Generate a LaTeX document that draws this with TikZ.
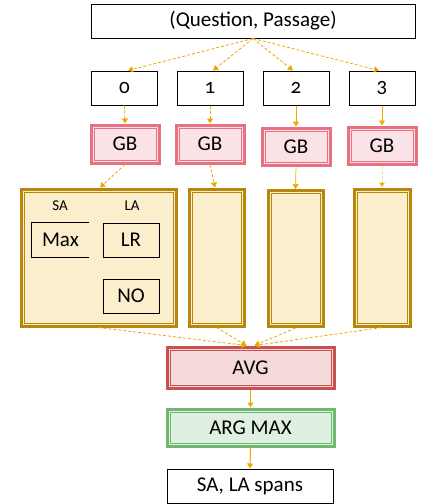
\documentclass[tikz,border=0pt]{standalone}
\usepackage{fontspec}
\setmainfont{Carlito}[Numbers=OldStyle]
\usetikzlibrary{arrows.meta}
\definecolor{arr}{RGB}{240,168,0}
\definecolor{gold}{RGB}{184,134,11}
\definecolor{goldfill}{RGB}{251,238,204}
\definecolor{pinkb}{RGB}{232,112,128}
\definecolor{pinkf}{RGB}{251,226,230}
\definecolor{redb}{RGB}{200,80,80}
\definecolor{redf}{RGB}{245,216,218}
\definecolor{greenb}{RGB}{112,184,112}
\definecolor{greenf}{RGB}{224,240,224}
\tikzset{
  bigfont/.style={font=\fontsize{21}{23}\selectfont},
  plainbox/.style={draw=black, line width=1pt, inner sep=0pt, bigfont},
  framed/.style={draw=#1, line width=3pt, inner sep=0pt,
    path picture={\draw[#1, line width=0.9pt]
      ([shift={(3pt,-3pt)}]path picture bounding box.north west) rectangle
      ([shift={(-3pt,3pt)}]path picture bounding box.south east);}},
  gbbox/.style={framed=pinkb, fill=pinkf, minimum width=68pt, minimum height=37pt, bigfont},
  colbox/.style={framed=gold, fill=goldfill, minimum height=137pt},
  innerbox/.style={draw=black, line width=0.9pt, minimum width=56pt, minimum height=34pt, inner sep=0pt, bigfont},
  lbl/.style={font=\fontsize{15}{16}\selectfont, inner sep=0pt},
  dasharr/.style={draw=arr, line width=0.8pt, dashed, dash pattern=on 3pt off 2pt, -{Triangle[length=5pt,width=6pt]}},
  solarr/.style={draw=arr, line width=1pt, -{Triangle[length=5pt,width=6pt]}},
}
\begin{document}
\begin{tikzpicture}[x=1pt,y=-1pt]
\useasboundingbox (0,0) rectangle (442,504);
% top
\node[plainbox, minimum width=324pt, minimum height=34pt] (top) at (253,21) {(Question, Passage)};
% numbers
\node[plainbox, minimum width=66pt, minimum height=34pt] (n0) at (124.5,88) {0};
\node[plainbox, minimum width=66pt, minimum height=34pt] (n1) at (210,88) {1};
\node[plainbox, minimum width=66pt, minimum height=34pt] (n2) at (296,88) {2};
\node[plainbox, minimum width=66pt, minimum height=34pt] (n3) at (382,88) {3};
% GB
\node[gbbox, minimum height=38pt] (g0) at (125,144) {GB};
\node[gbbox, minimum height=38pt] (g1) at (210,144) {GB};
\node[gbbox] (g2) at (296,146.5) {GB};
\node[gbbox] (g3) at (382,145.5) {GB};
% columns
\node[colbox, minimum width=155pt] (c0) at (98.5,257.5) {};
\node[colbox, minimum width=55pt] (c1) at (216.5,257.5) {};
\node[colbox, minimum width=55pt, minimum height=136pt] (c2) at (295.5,258.5) {};
\node[colbox, minimum width=56pt] (c3) at (382,257.5) {};
% inside column 0
\node[lbl] (sa) at (60,206) {SA};
\node[lbl] (la) at (132,206) {LA};
\node[minimum width=57pt, minimum height=34pt, inner sep=0pt, bigfont] (max) at (60.5,240) {Max};
\draw[line width=0.9pt] (max.north east) -- (max.north west) -- (max.south west) -- (max.south east);
\node[innerbox] (lr) at (131,240) {LR};
\node[innerbox] (no) at (131,296) {NO};
% lower chain
\node[framed=redb, fill=redf, minimum width=167pt, minimum height=41pt, bigfont] (avg) at (250.5,367.5) {AVG};
\node[framed=greenb, fill=greenf, minimum width=167pt, minimum height=37pt, bigfont] (am) at (250.5,427.5) {ARG MAX};
\node[plainbox, minimum width=166pt, minimum height=34pt] (out) at (250,486) {SA, LA spans};
% arrows top -> numbers
\draw[dasharr] (top.south) -- ([xshift=3.5pt]n0.north);
\draw[dasharr] (top.south) -- ([xshift=3pt]n1.north);
\draw[dasharr] (top.south) -- ([xshift=-3pt]n2.north);
\draw[dasharr] (top.south) -- ([xshift=-3pt]n3.north);
% numbers -> GB
\draw[dasharr] (n0.south) -- (g0.north);
\draw[dasharr] (n1.south) -- (g1.north);
\draw[solarr, line width=0.7pt] (n2.south) -- (g2.north);
\draw[solarr, line width=0.7pt] (n3.south) -- (g3.north);
% GB -> columns
\draw[dasharr] (g0.south) -- ([xshift=1.5pt]c0.north);
\draw[dasharr] (g1.south) -- ([xshift=-1.5pt]c1.north);
\draw[solarr, line width=0.7pt] (g2.south) -- (c2.north);
\draw[dasharr, draw opacity=0.4] (g3.south) -- (c3.north);
% columns -> AVG
\draw[dasharr] (c0.south) -- ([xshift=-4pt]avg.north);
\draw[dasharr] (c1.south) -- ([xshift=-4pt]avg.north);
\draw[dasharr] (c2.south) -- ([xshift=4pt]avg.north);
\draw[dasharr] (c3.south) -- ([xshift=4pt]avg.north);
% chain
\draw[solarr] (avg.south) -- (am.north);
\draw[solarr] (am.south) -- (out.north);
\end{tikzpicture}
\end{document}
